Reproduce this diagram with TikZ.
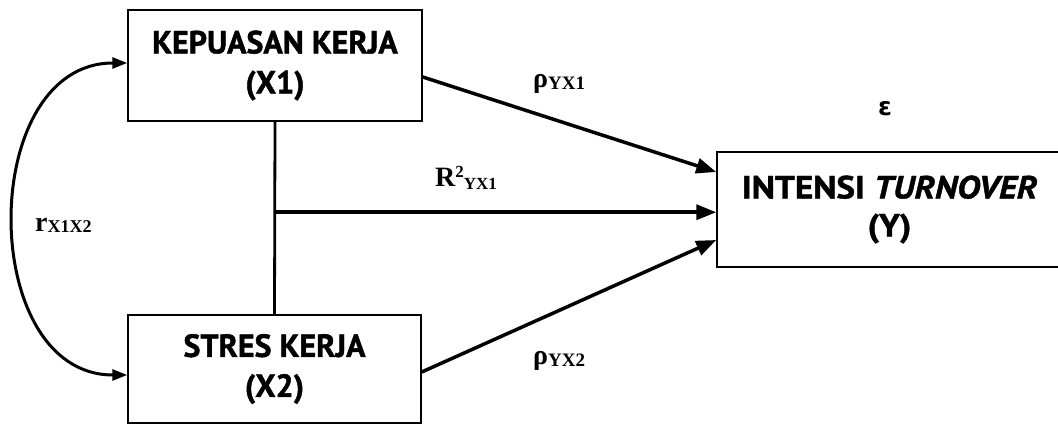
\documentclass[tikz,border=0pt]{standalone}
\usepackage{fontspec}
\setmainfont{Liberation Serif}
\newfontfamily\boxfont[BoldFeatures={FakeBold=1.3},BoldItalicFeatures={FakeBold=1.3}]{PT Sans}
\newfontfamily\wideboxfont[FakeStretch=1.1,BoldFeatures={FakeBold=1.3},BoldItalicFeatures={FakeBold=1.3}]{PT Sans}
\newfontfamily\greekfont{DejaVu Sans}
\usetikzlibrary{arrows.meta,calc}
\begin{document}
\begin{tikzpicture}[x=1pt,y=-1pt,
  varbox/.style={draw,line width=1.5pt,fill=white,align=center,inner sep=0pt,
    font=\boxfont\bfseries\fontsize{32}{40}\selectfont},
  mainarrow/.style={line width=3.5pt,-{Triangle[length=20pt,width=15pt]}},
  link/.style={line width=2.8pt},
  corrarrow/.style={line width=3pt,{Triangle[length=15pt,width=11pt]}-{Triangle[length=15pt,width=11pt]}},
  coef/.style={anchor=base west,inner sep=0pt,font=\bfseries}]
\useasboundingbox (0,0) rectangle (1058,425);

% variables
\node[varbox,minimum width=294pt,minimum height=111pt] (x1) at (275,65.5)
  {KEPUASAN KERJA\\(X1)};
\node[varbox,minimum width=293pt,minimum height=108pt] (x2) at (274.5,369)
  {STRES KERJA\\(X2)};
\node[varbox,minimum width=345pt,minimum height=115pt,
  font=\wideboxfont\bfseries\fontsize{32}{38}\selectfont] (y) at (889.5,209.5)
  {INTENSI \textit{TURNOVER}\\(Y)};

% joint effect of X1 and X2
\draw[link] (x1.south) -- (x2.north);
\coordinate (j) at ($(x1.south)!0.47!(x2.north)$);
\draw[mainarrow] (j) -- (j -| y.west);

% direct paths
\draw[mainarrow] ([yshift=-11.5pt]x1.east) -- ([yshift=37.5pt]y.west);
\draw[mainarrow] ([yshift=-3pt]x2.east) -- ([yshift=-30.5pt]y.west);

% correlation between X1 and X2
\draw[corrarrow] ([yshift=2.5pt]x1.west) .. controls (-23,63) and (-23,375) .. ([yshift=-6pt]x2.west);

% coefficients
\node[coef] (p1) at (533,88) {\fontsize{28}{28}\selectfont ρ\raisebox{-2pt}{\fontsize{19}{19}\selectfont YX1}};
\node[coef] (p2) at (533,364) {\fontsize{28}{28}\selectfont ρ\raisebox{-2pt}{\fontsize{19}{19}\selectfont YX2}};
\node[coef] (r2) at (435,186) {\fontsize{28}{28}\selectfont R\raisebox{9pt}{\fontsize{17}{17}\selectfont 2}\raisebox{-3pt}{\fontsize{17}{17}\selectfont YX1}};
\node[coef] (r12) at (35,231) {\fontsize{28}{28}\selectfont r\raisebox{-1pt}{\fontsize{18}{18}\selectfont X1X2}};
\node[coef] (eps) at (878,116) {\greekfont\bfseries\fontsize{25}{25}\selectfont ε};
\end{tikzpicture}
\end{document}
